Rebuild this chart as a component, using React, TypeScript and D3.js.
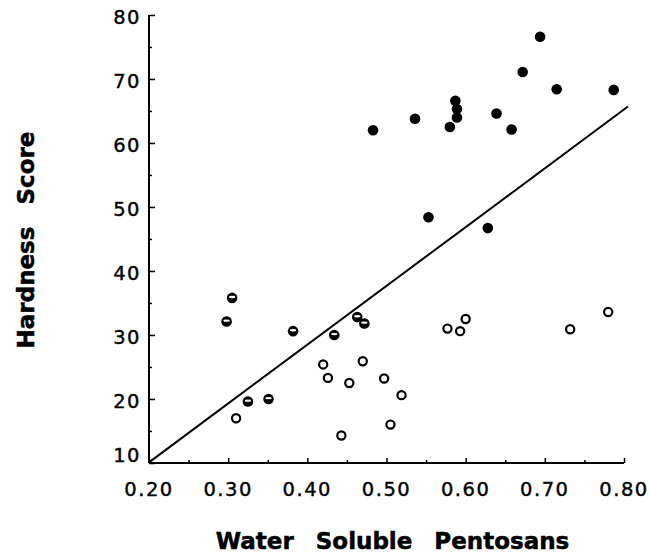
import { useEffect, useRef } from "react";
import * as d3 from "d3";

// filled circles
const filledX = [0.483, 0.536, 0.58, 0.587, 0.589, 0.589, 0.639, 0.658, 0.672, 0.694, 0.715, 0.787, 0.553, 0.628];
const filledY = [62.0, 63.8, 62.5, 66.6, 65.3, 64.0, 64.6, 62.1, 71.1, 76.6, 68.4, 68.3, 48.4, 46.7];

// half-filled circles
const halfX = [0.298, 0.305, 0.325, 0.351, 0.382, 0.434, 0.463, 0.472];
const halfY = [32.1, 35.8, 19.6, 20.0, 30.6, 30.0, 32.8, 31.8];

// open circles
const openX = [0.31, 0.42, 0.426, 0.443, 0.453, 0.47, 0.497, 0.505, 0.519, 0.577, 0.593, 0.6, 0.732, 0.78];
const openY = [17.0, 25.4, 23.3, 14.3, 22.5, 25.9, 23.2, 16.0, 20.6, 31.0, 30.6, 32.5, 30.9, 33.6];

// regression line end points
const fitX = [0.2, 0.805];
const fitY = [10.1, 65.7];

const xTicks = [0.2, 0.3, 0.4, 0.5, 0.6, 0.7, 0.8];
const yTicks = [10, 20, 30, 40, 50, 60, 70, 80];

const W = 650;
const H = 559;

export default function App() {
  const svgRef = useRef<SVGSVGElement>(null);

  useEffect(() => {
    if (!svgRef.current) return;
    document.body.style.margin = "0";

    const svg = d3.select(svgRef.current);
    svg.selectAll("*").remove();

    const x = d3.scaleLinear().domain([0.2, 0.8]).range([149, 624]);
    const y = d3.scaleLinear().domain([10, 80]).range([463, 15]);

    const g = svg.append("g");

    // X axis (ticks point up)
    const xAxis = g.append("g").attr("transform", `translate(0,${y(10)})`);
    xAxis
      .call(
        d3
          .axisBottom(x)
          .tickValues(d3.range(0.2, 0.8001, 0.05))
          .tickSize(-3)
          .tickFormat(() => "")
      )
      .call(s => s.select(".domain").attr("stroke-width", 2).attr("d", `M${x(0.2)},0H${x(0.8)}`));
    xAxis
      .selectAll(".tick line")
      .attr("stroke-width", 1.5)
      .attr("y2", (d: any) => (Math.round(d * 100) % 10 === 0 ? -5 : -3));

    g.append("g")
      .selectAll("text")
      .data(xTicks)
      .enter()
      .append("text")
      .attr("x", d => x(d))
      .attr("y", y(10) + 33)
      .attr("text-anchor", "middle")
      .attr("font-family", "DejaVu Sans")
      .attr("font-size", 19.5)
      .attr("letter-spacing", 1.5)
      .attr("stroke", "#000")
      .attr("stroke-width", 0.4)
      .text(d => d.toFixed(2));

    // Y axis (ticks point right)
    const yAxis = g.append("g").attr("transform", `translate(${x(0.2)},0)`);
    yAxis
      .call(
        d3
          .axisLeft(y)
          .tickValues(d3.range(10, 80.01, 5))
          .tickSize(-3)
          .tickFormat(() => "")
      )
      .call(s => s.select(".domain").attr("stroke-width", 2).attr("d", `M0,${y(80)}V${y(10)}`));
    yAxis
      .selectAll(".tick line")
      .attr("stroke-width", 1.5)
      .attr("x2", (d: any) => (d % 10 === 0 ? 6 : 3));

    g.append("g")
      .selectAll("text")
      .data(yTicks)
      .enter()
      .append("text")
      .attr("x", x(0.2) - 8)
      .attr("y", d => (d === 10 ? y(10) - 8 : y(d) + 2))
      .attr("dy", "0.35em")
      .attr("text-anchor", "end")
      .attr("font-family", "DejaVu Sans")
      .attr("font-size", 19.5)
      .attr("letter-spacing", 1.5)
      .attr("stroke", "#000")
      .attr("stroke-width", 0.4)
      .text(d => d);

    // regression line
    const line = d3
      .line<number>()
      .x(i => x(fitX[i]))
      .y(i => y(fitY[i]));
    g.append("path")
      .datum([0, 1])
      .attr("d", line)
      .attr("fill", "none")
      .attr("stroke", "#000")
      .attr("stroke-width", 2);

    // points
    g.append("g")
      .selectAll("circle")
      .data(d3.range(filledX.length))
      .enter()
      .append("circle")
      .attr("cx", i => x(filledX[i]))
      .attr("cy", i => y(filledY[i]))
      .attr("r", 5.3)
      .attr("fill", "#000");

    const half = g
      .append("g")
      .selectAll("g")
      .data(d3.range(halfX.length))
      .enter()
      .append("g")
      .attr("transform", i => `translate(${x(halfX[i])},${y(halfY[i])})`);
    half.append("circle").attr("r", 5.3).attr("fill", "#000");
    half
      .append("ellipse")
      .attr("cx", 0)
      .attr("cy", -0.9)
      .attr("rx", 3.2)
      .attr("ry", 1.2)
      .attr("fill", "#fff");

    g.append("g")
      .selectAll("circle")
      .data(d3.range(openX.length))
      .enter()
      .append("circle")
      .attr("cx", i => x(openX[i]))
      .attr("cy", i => y(openY[i]))
      .attr("r", 4.1)
      .attr("fill", "#fff")
      .attr("stroke", "#000")
      .attr("stroke-width", 2.2);

    // axis titles
    g.append("text")
      .attr("x", (x(0.2) + x(0.8)) / 2 + 6)
      .attr("y", 549)
      .attr("text-anchor", "middle")
      .attr("font-family", "DejaVu Sans, sans-serif")
      .attr("font-weight", "bold")
      .attr("font-size", 23)
      .attr("word-spacing", 14)
      .attr("stroke", "#000")
      .attr("stroke-width", 0.5)
      .text("Water Soluble Pentosans");

    g.append("text")
      .attr("transform", `translate(34,${240}) rotate(-90)`)
      .attr("text-anchor", "middle")
      .attr("font-family", "DejaVu Sans, sans-serif")
      .attr("font-weight", "bold")
      .attr("font-size", 23)
      .attr("word-spacing", 14)
      .attr("stroke", "#000")
      .attr("stroke-width", 0.5)
      .text("Hardness Score");
  }, []);

  return (
    <svg
      ref={svgRef}
      width={W}
      height={H}
      style={{ display: "block", position: "absolute", left: 0, top: 0, background: "#fff" }}
    />
  );
}
